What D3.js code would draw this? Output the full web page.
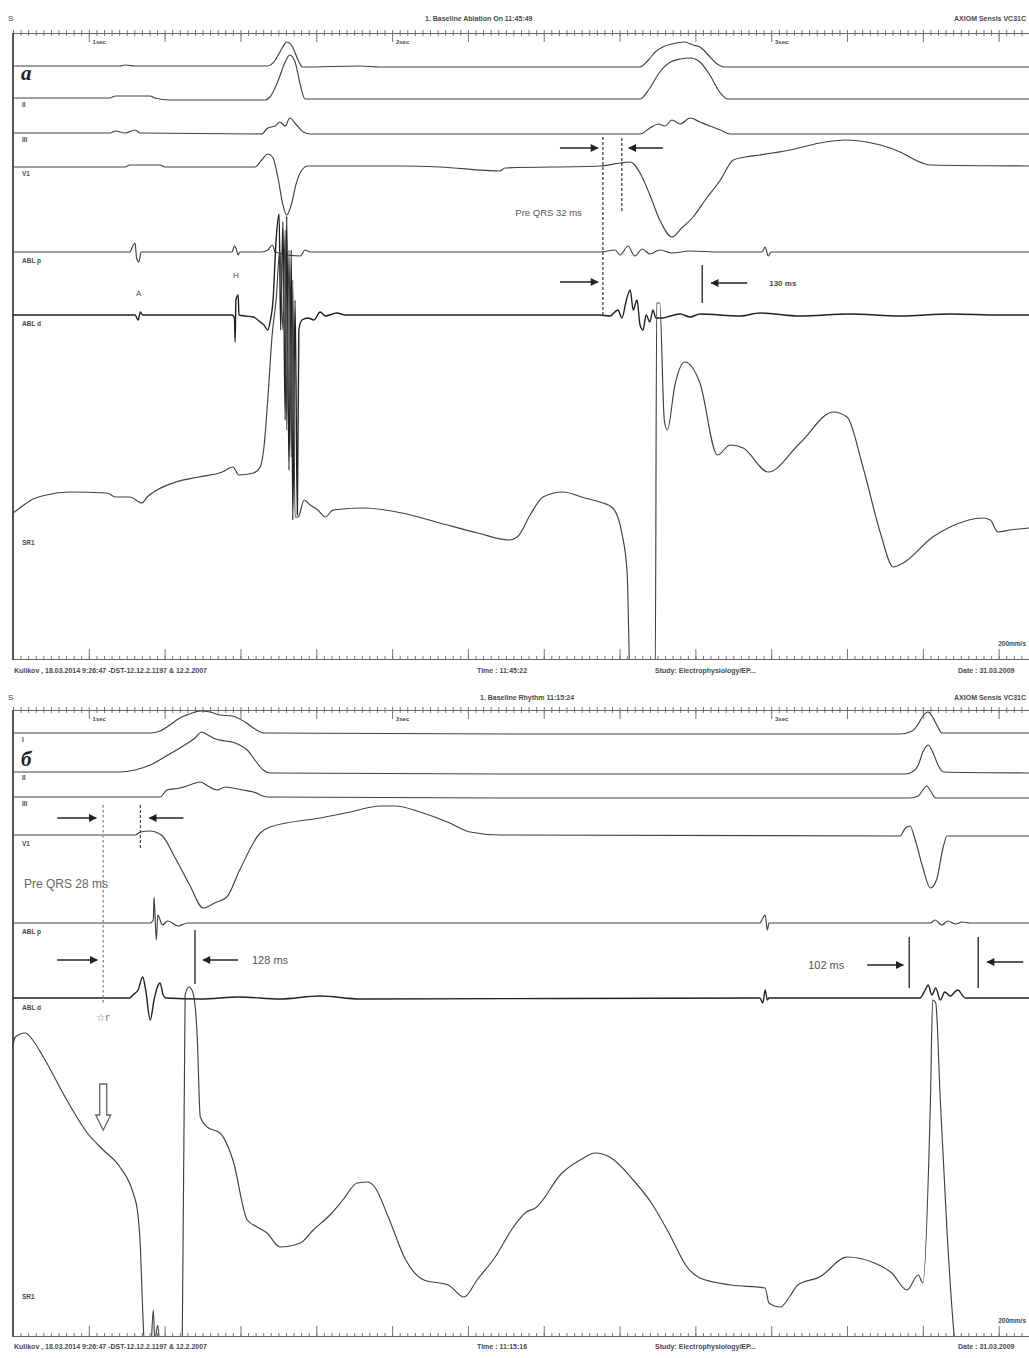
<!DOCTYPE html>
<html><head><meta charset="utf-8">
<script src="https://cdn.jsdelivr.net/npm/d3@7"></script>
<style>body{margin:0;background:#fff}svg{display:block}</style>
</head><body><svg id="c" width="1029" height="1358"></svg>
<script>
// ---------- DATA (time in ms, amplitude in mV-like units) ----------
const channels = ["I","II","III","V1","ABL p","ABL d","SR1"];
const rulerLabels = [[105,"1sec"],[505,"2sec"],[1005,"3sec"]];

// Panel a
const a_I = [[0,0],[141,0],[148,0.1],[161,0],[336,0],[346,0.6],[355,1.8],[361,2.4],[368,2.0],[376,0.6],[382,-0.1],[458,0],[484,-0.1],[827,-0.1],[838,0.6],[847,1.4],[857,1.9],[869,2.2],[886,2.4],[897,2.1],[906,1.9],[917,1.1],[927,0.3],[939,-0.1],[1340,-0.1]];
const a_II = [[0,0],[128,0],[135,0.2],[181,0.2],[187,0],[207,-0.2],[332,-0.2],[339,0.1],[350,1.8],[359,3.6],[365,4.3],[372,3.6],[379,1.3],[385,-0.1],[510,-0.1],[827,-0.1],[840,1.0],[853,2.6],[867,3.6],[880,3.9],[893,4.0],[906,3.6],[919,2.3],[933,0.5],[943,-0.1],[1340,-0.1]];
const a_III = [[0,0],[128,0],[135,0.2],[148,0],[161,0.3],[168,0],[328,-0.1],[336,0.5],[346,0.7],[352,1.1],[359,0.7],[365,1.5],[373,0.9],[383,0.1],[392,-0.1],[827,-0.1],[840,0.5],[851,0.9],[860,0.7],[869,1.3],[880,0.9],[893,1.5],[906,1.1],[919,0.7],[933,0.3],[946,-0.1],[1340,-0.1]];
const a_V1 = [[0,0],[148,0],[154,0.2],[194,0.2],[200,0],[319,0],[328,0.7],[336,1.3],[343,0.9],[350,-1.3],[356,-3.8],[361,-4.8],[367,-3.8],[373,-1.8],[381,-0.3],[389,0.1],[510,0.1],[563,0],[642,-0.4],[649,-0.1],[774,0.1],[801,0.4],[814,0.5],[820,0.2],[827,-0.6],[840,-2.8],[853,-5.3],[869,-7.0],[882,-6.1],[897,-5.0],[913,-3.3],[933,-1.3],[950,0.7],[966,1.0],[985,1.2],[1025,1.7],[1064,2.4],[1097,2.7],[1117,2.6],[1144,2.2],[1170,1.5],[1190,0.7],[1210,0.2],[1340,0.1]];
const a_ABLp = [[0,0],[154,0],[158,0.6],[161,0.9],[163,-0.6],[166,-1.0],[169,0],[289,0],[292,0.6],[294,0.4],[297,-0.3],[299,0],[328,0],[336,0.2],[342,0.7],[346,0],[379,-0.4],[385,0.2],[392,0],[774,0],[794,0.2],[801,-0.3],[811,0.6],[820,-0.4],[830,0.3],[840,-0.2],[853,0.2],[869,-0.1],[893,0.1],[933,0],[988,0],[992,0.5],[996,-0.4],[1000,0],[1340,0]];
const a_ABLd = [[0,0],[161,0],[165,-0.5],[168,0.3],[171,0],[289,0],[292,-0.3],[293,-2.7],[294,1.5],[297,2.0],[298,0],[306,-0.1],[317,-0.2],[326,-0.7],[331,-1.0],[336,-1.5],[339,-0.7],[343,1.5],[347,7.5],[351,10.1],[353,-1.5],[356,9.3],[359,-10.5],[361,9.9],[364,-15.5],[367,6.5],[369,-20.5],[372,1.5],[375,-20],[377,-1.5],[381,-0.5],[389,-0.3],[397,-0.5],[405,0.3],[412,-0.1],[427,0.2],[438,0],[774,0],[787,-0.1],[798,0.5],[803,-0.3],[809,1.5],[814,2.5],[818,0.5],[823,1.5],[827,-1.0],[831,-1.5],[835,0],[840,-0.7],[844,0.5],[848,-0.3],[856,-0.3],[867,-0.1],[880,0.1],[893,-0.2],[906,0.1],[959,-0.1],[985,0.2],[1038,-0.1],[1104,0.1],[1170,-0.1],[1236,0.1],[1302,0],[1340,0]];
const a_SR1 = [[0,-1.3],[9,-0.8],[24,0],[44,0.5],[74,0.8],[124,0.7],[135,0.3],[154,0.3],[170,-0.3],[177,0.3],[190,1.0],[215,1.8],[245,2.3],[276,2.8],[290,3.3],[298,2.5],[317,2.7],[326,3.3],[331,5.3],[336,10],[342,16.7],[347,20],[352,25],[356,17],[359,27],[361,7],[364,25],[367,4.3],[369,22],[372,-1.7],[376,-1.7],[384,0],[392,-0.5],[402,-1.0],[412,-1.7],[422,-1.0],[463,-0.8],[513,-1.3],[563,-2.3],[613,-3.3],[654,-4.0],[665,-3.7],[682,-1.5],[699,0.3],[725,0.8],[754,0.2],[774,-0.2],[791,-0.8],[803,-3.3],[810,-7.3],[814,-18],[847,-18],[849,19.7],[853,19.7],[859,8],[863,7],[873,11.5],[886,13.8],[906,11.7],[929,4.5],[946,5.5],[963,5.2],[996,2.8],[1038,5.7],[1082,8.8],[1100,8.3],[1121,3.3],[1144,-3.3],[1161,-6.7],[1174,-6.3],[1213,-3.7],[1236,-2.7],[1279,-1.8],[1289,-2.0],[1299,-3.2],[1315,-3.0],[1340,-2.8]];

// Panel б
const b_I = [[0,0],[181,0],[194,0.2],[207,0.8],[220,1.5],[233,1.9],[247,2.2],[260,2.1],[273,1.8],[289,1.7],[306,1.1],[319,0.4],[332,0],[669,-0.1],[1170,-0.1],[1186,0.2],[1194,0.9],[1200,1.7],[1207,2.1],[1212,1.7],[1219,0.7],[1225,0],[1340,0]];
const b_II = [[0,0],[141,0],[161,0.2],[181,0.7],[200,1.5],[220,2.4],[240,3.4],[249,4.0],[257,3.7],[264,3.4],[280,3.1],[289,3.0],[299,2.7],[309,2.2],[319,1.2],[330,0.2],[339,-0.1],[642,-0.2],[1177,-0.2],[1186,0],[1194,0.7],[1200,2.0],[1207,2.7],[1213,2.0],[1220,0.7],[1227,0],[1340,-0.1]];
const b_III = [[0,0],[194,0],[203,0.7],[220,0.9],[233,1.2],[247,1.5],[257,1.1],[269,0.7],[280,1.0],[290,0.9],[303,0.7],[317,0.5],[335,0],[642,-0.1],[1183,-0.1],[1194,0.1],[1200,0.7],[1205,1.1],[1211,0.5],[1217,-0.1],[1340,-0.1]];
const b_V1 = [[0,0],[161,0],[168,0.3],[181,0.4],[191,0.2],[197,-0.1],[214,-2.3],[233,-5.0],[251,-7.3],[266,-6.8],[282,-6.2],[299,-3.5],[326,0.2],[339,0.8],[405,1.7],[445,2.3],[484,2.9],[504,2.9],[537,2.3],[576,1.2],[603,0.3],[642,0],[1170,-0.1],[1177,0.7],[1183,0.9],[1190,-0.5],[1199,-3.0],[1210,-5.3],[1218,-4.5],[1226,-1.5],[1232,-0.1],[1340,-0.1]];
const b_ABLp = [[0,0],[181,0],[185,0.3],[186,2.6],[189,-1.7],[191,0.8],[197,-0.2],[204,0.2],[218,-0.3],[230,0],[985,0],[989,0.5],[992,0.8],[995,-0.7],[997,0],[1210,0],[1216,0.3],[1225,-0.2],[1233,0.2],[1243,-0.1],[1252,0.1],[1262,0],[1340,0]];
const b_ABLd = [[0,0],[154,0],[158,0.3],[165,0.8],[171,2.1],[175,0.8],[181,-2.2],[186,-0.2],[190,1.0],[194,1.5],[198,0.3],[202,0],[247,-0.1],[299,0.1],[352,-0.1],[405,0.2],[458,-0.1],[985,0],[989,-0.5],[992,0.8],[995,-0.2],[997,0],[1196,0],[1203,0.8],[1207,1.3],[1212,0.3],[1217,1.0],[1223,-0.2],[1229,0.6],[1236,0.2],[1246,0.8],[1256,0],[1340,0]];
const b_SR1 = [[0,15.5],[3,16.3],[16,16.7],[26,16.0],[40,14.3],[71,10.0],[98,6.7],[119,5.0],[141,3.3],[158,0.8],[164,-1.0],[168,-4.7],[171,-11.0],[175,-16],[181,-16],[185,-11],[187,-14],[191,-12.5],[195,-16],[223,-16],[227,20.5],[232,21.3],[237,20.8],[243,16.3],[247,8.3],[256,7.3],[273,6.7],[290,4.0],[309,-2.0],[322,-2.7],[335,-3.3],[352,-4.7],[379,-4.3],[396,-3.0],[418,-1.5],[435,0],[454,1.7],[468,1.8],[477,1.3],[495,-1.7],[518,-6.0],[542,-8.0],[574,-8.5],[595,-9.7],[612,-8.0],[636,-5.7],[660,-2.7],[677,-1.2],[689,-0.8],[724,2.7],[748,4.0],[768,4.7],[789,4.2],[818,2.0],[842,-0.3],[865,-3.3],[889,-6.7],[906,-7.8],[947,-8.5],[992,-8.8],[997,-10.3],[1012,-10.7],[1024,-9.7],[1035,-8.5],[1064,-7.7],[1100,-5.7],[1136,-6.3],[1159,-7.3],[1179,-9.0],[1194,-7.5],[1200,-8.3],[1210,10],[1213,20],[1217,19.7],[1223,10],[1232,-3.3],[1241,-13.3],[1249,-18],[1340,-18]];

// Interval markers (ms)
const a_marks = {preStart:778, qrsOnset:803, ablEnd:909};
const b_marks = {preStart:119, qrsOnset:168, ablEnd:240, r2Start:1182, r2End:1273};

// ---------- LAYOUT ----------
const svg = d3.select("#c");
const x = d3.scaleLinear().domain([0,1340]).range([13,1029]);
const txtFont = "'Liberation Sans Narrow','Liberation Sans',Arial,sans-serif";
const plainFont = "'Liberation Sans',Arial,sans-serif";
const traceColor = "#404040";
const defs = svg.append("defs");
const mk = defs.append("marker").attr("id","ah").attr("viewBox","0 0 10 10").attr("refX",9).attr("refY",5)
  .attr("markerWidth",9).attr("markerHeight",8).attr("orient","auto-start-reverse").attr("markerUnits","userSpaceOnUse");
mk.append("path").attr("d","M0,0 L10,5 L0,10 Z").attr("fill","#222");

function smallText(g,xx,yy,t,opt={}){
  return g.append("text").attr("x",xx).attr("y",yy).text(t)
    .attr("font-family",opt.family||txtFont).attr("font-size",opt.size||7)
    .attr("font-weight",opt.weight||"bold").attr("fill",opt.fill||"#4a4a4a")
    .attr("text-anchor",opt.anchor||"start").attr("font-style",opt.style||"normal");
}
function arrow(g,x1,y1,x2,y2){
  g.append("line").attr("x1",x1).attr("y1",y1).attr("x2",x2).attr("y2",y2)
   .attr("stroke","#222").attr("stroke-width",1.3).attr("marker-end","url(#ah)");
}

function drawPanel(p){
  const g = svg.append("g");
  defs.append("clipPath").attr("id","clip"+p.key).append("rect")
    .attr("x",13).attr("y",p.top).attr("width",1016).attr("height",p.bottom-p.top);
  // header
  smallText(g,8,p.headerY,"S",{size:8,weight:"normal"});
  smallText(g,p.titleX,p.headerY,p.title);
  smallText(g,1026,p.headerY,"AXIOM Sensis VC31C",{anchor:"end"});
  // rulers
  const minor = d3.range(0,1341,10), major = d3.range(0,1341,100);
  const topMinor = g.append("g").attr("transform",`translate(0,${p.top-3})`)
    .call(d3.axisBottom(x).tickValues(minor).tickSize(6).tickSizeOuter(0).tickFormat(""));
  const topMajor = g.append("g").attr("transform",`translate(0,${p.top})`)
    .call(d3.axisBottom(x).tickValues(major).tickSize(9).tickSizeOuter(0).tickFormat(""));
  const botMinor = g.append("g").attr("transform",`translate(0,${p.bottom+1})`)
    .call(d3.axisTop(x).tickValues(minor).tickSize(4).tickSizeOuter(0).tickFormat(""));
  const botMajor = g.append("g").attr("transform",`translate(0,${p.bottom})`)
    .call(d3.axisTop(x).tickValues(major).tickSize(10).tickSizeOuter(0).tickFormat(""));
  [topMinor,topMajor,botMinor,botMajor].forEach(a=>{
    a.selectAll("path").attr("stroke","#666").attr("stroke-width",1.2);
    a.selectAll("line").attr("stroke","#777").attr("stroke-width",1);
  });
  topMinor.select("path").remove(); botMinor.select("path").remove();
  rulerLabels.forEach(([t,s])=>smallText(g,x(t),p.top+11,s,{size:6}));
  // left frame
  g.append("line").attr("x1",13).attr("x2",13).attr("y1",p.top).attr("y2",p.bottom+1)
    .attr("stroke","#555").attr("stroke-width",2);
  // traces
  const tg = g.append("g").attr("clip-path",`url(#clip${p.key})`);
  channels.forEach((ch,i)=>{
    const base = p.base[i];
    const y = d3.scaleLinear().domain([0,1]).range([base, base-10]);
    const line = d3.line().x(d=>x(d[0])).y(d=>y(d[1])).curve(d3.curveMonotoneX);
    tg.append("path").datum(p.series[i]).attr("d",line).attr("fill","none")
      .attr("stroke", ch==="ABL d" ? "#222" : traceColor)
      .attr("stroke-width", ch==="ABL d" ? 1.4 : 1.15).attr("stroke-linejoin","round");
    if(p.labelY[i]!==null) smallText(g,22,p.labelY[i],ch,{size:6.5});
  });
  // footer
  smallText(g,14,p.footerY,"Kulikov , 18.03.2014 9:26:47 -DST-12.12.2.1197 & 12.2.2007");
  smallText(g,477,p.footerY,p.time);
  smallText(g,655,p.footerY,"Study: Electrophysiology/EP...");
  smallText(g,958,p.footerY,"Date : 31.03.2009");
  smallText(g,1026,p.bottom-13,"200mm/s",{anchor:"end",size:6.5});
  // panel letter
  smallText(g,21,p.letterY,p.letter,{family:"'Liberation Serif','DejaVu Serif',serif",size:21,weight:"bold",style:"italic",fill:"#222"});
  return g;
}

// Panel a
const ga = drawPanel({key:"a",top:33,bottom:659,headerY:21,footerY:673,titleX:425,
  title:"1. Baseline Ablation On 11:45:49",time:"Time : 11:45:22",letter:"а",letterY:80,
  base:[66,98,133,167,252,315,500],labelY:[null,107,142,176,263,326,545],
  series:[a_I,a_II,a_III,a_V1,a_ABLp,a_ABLd,a_SR1]});
// annotations a
ga.append("line").attr("x1",x(a_marks.preStart)).attr("x2",x(a_marks.preStart)).attr("y1",137).attr("y2",316)
  .attr("stroke","#333").attr("stroke-width",1.2).attr("stroke-dasharray","3,2");
ga.append("line").attr("x1",x(a_marks.qrsOnset)).attr("x2",x(a_marks.qrsOnset)).attr("y1",138).attr("y2",213)
  .attr("stroke","#333").attr("stroke-width",1.2).attr("stroke-dasharray","3,2");
arrow(ga,x(a_marks.preStart)-43,148,x(a_marks.preStart)-5,148);
arrow(ga,x(a_marks.qrsOnset)+41,148,x(a_marks.qrsOnset)+7,148);
smallText(ga,x(a_marks.preStart)-21,216,"Pre QRS 32 ms",{anchor:"end",size:9.5,weight:"normal",fill:"#555",family:plainFont});
arrow(ga,x(a_marks.preStart)-43,282,x(a_marks.preStart)-5,282);
ga.append("line").attr("x1",x(a_marks.ablEnd)).attr("x2",x(a_marks.ablEnd)).attr("y1",265).attr("y2",303)
  .attr("stroke","#222").attr("stroke-width",1.3);
arrow(ga,x(a_marks.ablEnd)+45,283,x(a_marks.ablEnd)+9,283);
smallText(ga,x(a_marks.ablEnd)+67,286,"130 ms",{size:8});
smallText(ga,136,296,"A",{size:8,weight:"normal"});
smallText(ga,233,278,"H",{size:8,weight:"normal"});

// Panel б
const gb = drawPanel({key:"b",top:710,bottom:1336,headerY:700,footerY:1349,titleX:480,
  title:"1. Baseline Rhythm 11:15:24",time:"Time : 11:15:16",letter:"б",letterY:766,
  base:[733,772,797,835,923,998,1200],labelY:[742,780,806,846,934,1010,1299],
  series:[b_I,b_II,b_III,b_V1,b_ABLp,b_ABLd,b_SR1]});
gb.append("line").attr("x1",x(b_marks.preStart)).attr("x2",x(b_marks.preStart)).attr("y1",805).attr("y2",1005)
  .attr("stroke","#999").attr("stroke-width",1.6).attr("stroke-dasharray","2.5,2.5");
gb.append("line").attr("x1",x(b_marks.qrsOnset)).attr("x2",x(b_marks.qrsOnset)).attr("y1",805).attr("y2",848)
  .attr("stroke","#444").attr("stroke-width",1.2).attr("stroke-dasharray","3,2");
arrow(gb,x(b_marks.preStart)-46,818,x(b_marks.preStart)-7,818);
arrow(gb,x(b_marks.qrsOnset)+43,818,x(b_marks.qrsOnset)+9,818);
smallText(gb,24,888,"Pre QRS 28 ms",{size:12,weight:"normal",fill:"#666",family:plainFont});
arrow(gb,x(b_marks.preStart)-46,960,x(b_marks.preStart)-6,960);
gb.append("line").attr("x1",x(b_marks.ablEnd)).attr("x2",x(b_marks.ablEnd)).attr("y1",930).attr("y2",984)
  .attr("stroke","#222").attr("stroke-width",1.3);
arrow(gb,x(b_marks.ablEnd)+43,960,x(b_marks.ablEnd)+8,960);
smallText(gb,x(b_marks.ablEnd)+57,964,"128 ms",{size:11,weight:"normal",fill:"#555",family:plainFont});
gb.append("line").attr("x1",x(b_marks.r2Start)).attr("x2",x(b_marks.r2Start)).attr("y1",937).attr("y2",988)
  .attr("stroke","#222").attr("stroke-width",1.3);
gb.append("line").attr("x1",x(b_marks.r2End)).attr("x2",x(b_marks.r2End)).attr("y1",937).attr("y2",988)
  .attr("stroke","#222").attr("stroke-width",1.3);
arrow(gb,x(b_marks.r2Start)-42,965,x(b_marks.r2Start)-6,965);
arrow(gb,x(b_marks.r2End)+45,962,x(b_marks.r2End)+9,962);
smallText(gb,x(b_marks.r2Start)-101,969,"102 ms",{size:11,weight:"normal",fill:"#555",family:plainFont});
smallText(gb,x(b_marks.preStart)-7,1021,"☆r",{size:10,weight:"normal",fill:"#777",family:"'DejaVu Sans',sans-serif"});
// hollow arrow marking the pre-QRS point on SR1
const hx = x(b_marks.preStart);
gb.append("path").attr("d",`M${hx-3.5},1084 L${hx+3.5},1084 L${hx+3.5},1115 L${hx+7.5},1115 L${hx},1130 L${hx-7.5},1115 L${hx-3.5},1115 Z`)
  .attr("fill","#fff").attr("stroke","#666").attr("stroke-width",1.3);
</script></body></html>
